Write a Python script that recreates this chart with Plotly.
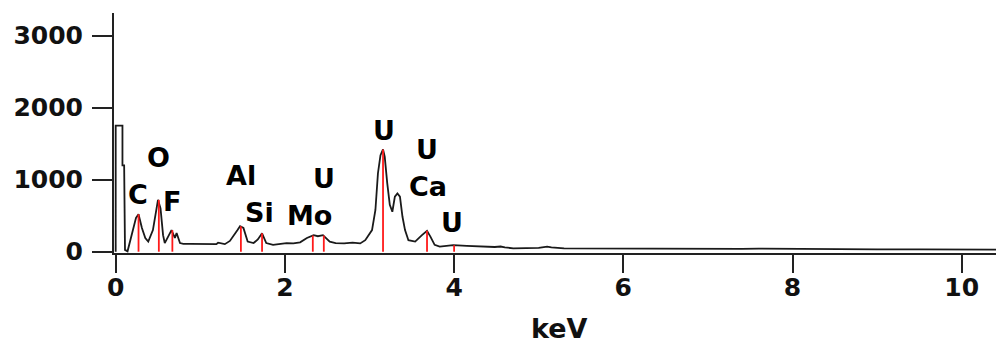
import plotly.graph_objects as go

# Spectrum (keV, counts)
kev = [0.0, 0.0, 0.08, 0.08, 0.10, 0.11, 0.14, 0.17, 0.21, 0.24, 0.27, 0.31, 0.35, 0.385,
       0.44, 0.47, 0.50, 0.53, 0.56, 0.58, 0.62, 0.66, 0.70, 0.72, 0.76, 0.80, 0.88,
       1.00, 1.10, 1.19, 1.21, 1.25, 1.29, 1.35, 1.39, 1.44, 1.47, 1.51, 1.56, 1.63,
       1.68, 1.73, 1.78, 1.86, 1.95, 2.02, 2.10, 2.18, 2.26, 2.34, 2.39, 2.45, 2.53,
       2.60, 2.70, 2.80, 2.89, 2.95, 3.03, 3.07, 3.10, 3.13, 3.16, 3.18, 3.21, 3.24,
       3.27, 3.30, 3.33, 3.36, 3.39, 3.42, 3.46, 3.54, 3.62, 3.68, 3.72, 3.77, 3.83,
       3.92, 3.99, 4.15, 4.30, 4.48, 4.55, 4.60, 4.70, 5.0, 5.10, 5.15, 5.30, 5.6,
       6.0, 6.5, 7.0, 7.06, 7.1, 7.4, 7.6, 7.9, 8.2, 8.3, 8.6, 9.0, 9.5, 10.0, 10.5]
counts = [0, 1750, 1750, 1200, 1200, 25, 5, 140, 330, 470, 520, 330, 190, 140,
          300, 520, 720, 600, 230, 120, 200, 300, 190, 260, 120, 110, 110,
          105, 100, 105, 125, 115, 105, 150, 210, 300, 355, 330, 140, 120,
          170, 255, 120, 95, 110, 120, 115, 130, 190, 230, 215, 230, 140,
          120, 115, 125, 115, 160, 300, 580, 1090, 1340, 1420, 1320, 950, 650,
          555, 765, 810, 765, 485, 300, 160, 140, 230, 290, 210, 95, 70,
          80, 90, 80, 70, 65, 72, 60, 47, 52, 70, 60, 47, 45,
          45, 42, 40, 30, 40, 38, 42, 38, 36, 42, 34, 33, 32, 30, 30]

# Element marker lines (keV, height)
line_kev = [0.27, 0.51, 0.67, 1.48, 1.73, 2.33, 2.46, 3.16, 3.68, 4.00]
line_top = [520, 720, 300, 355, 255, 225, 225, 1420, 290, 90]

# Element labels
label_text = ["C", "O", "F", "Al", "Si", "Mo", "U", "U", "U", "Ca", "U"]
label_x = [0.26, 0.505, 0.67, 1.48, 1.70, 2.29, 2.46, 3.17, 3.68, 3.69, 3.98]
label_y = [800, 1310, 700, 1060, 545, 505, 1020, 1690, 1420, 900, 400]

x_ticks = [0, 2, 4, 6, 8, 10]
y_ticks = [0, 1000, 2000, 3000]

FONT = "DejaVu Sans"

fig = go.Figure()
fig.add_trace(go.Scatter(x=kev, y=counts, mode="lines",
                         line=dict(color="#1a1a1a", width=1.8),
                         hoverinfo="skip", showlegend=False))
lx, ly = [], []
for k, t in zip(line_kev, line_top):
    lx += [k, k, None]
    ly += [0, t, None]
fig.add_trace(go.Scatter(x=lx, y=ly, mode="lines",
                         line=dict(color="#ff1a1a", width=1.8),
                         hoverinfo="skip", showlegend=False))

for t, x, y in zip(label_text, label_x, label_y):
    fig.add_annotation(x=x, y=y, text=t, showarrow=False,
                       xanchor="center", yanchor="middle",
                       font=dict(family=FONT, size=27, color="black", weight="bold"))

fig.add_annotation(x=0.5, y=-0.315, xref="paper", yref="paper", text="keV",
                   showarrow=False, xanchor="center", yanchor="middle",
                   font=dict(family=FONT, size=27, color="#111", weight="bold"))

axis_common = dict(showgrid=False, zeroline=False, showline=True,
                   linecolor="#222", linewidth=2, ticks="outside",
                   tickwidth=2, tickcolor="#222", automargin=False,
                   tickfont=dict(family=FONT, size=25, color="#111", weight="bold"))

fig.update_xaxes(range=[-0.02, 10.5], tickvals=x_ticks, ticklen=18,
                 ticklabelstandoff=-7, **axis_common)
fig.update_yaxes(range=[-18, 3315], tickvals=y_ticks, ticklen=20,
                 ticklabelstandoff=4, **axis_common)

# page body has an 8px default margin, so the figure is offset by (8, 8)
fig.update_layout(width=996, height=339,
                  margin=dict(l=106, r=0, t=5, b=94),
                  plot_bgcolor="white", paper_bgcolor="white")

fig.write_html("out.html")
